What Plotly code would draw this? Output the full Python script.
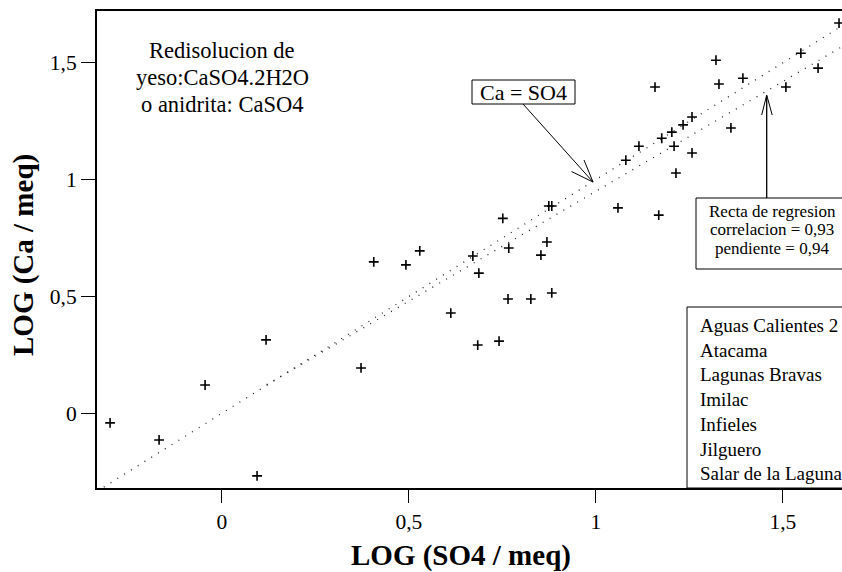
import plotly.graph_objects as go

# ---- data (LOG SO4 / meq vs LOG Ca / meq) ----
log_so4 = [-0.299, -0.168, -0.045, 0.094, 0.118, 0.372, 0.406, 0.492, 0.529, 0.612,
           0.671, 0.687, 0.684, 0.741, 0.751, 0.767, 0.765, 0.826, 0.853, 0.869,
           0.874, 0.882, 0.882, 1.059, 1.080, 1.115, 1.158, 1.168, 1.176, 1.203,
           1.209, 1.214, 1.233, 1.257, 1.257, 1.321, 1.329, 1.361, 1.393, 1.508,
           1.548, 1.594, 1.650]
log_ca = [-0.041, -0.114, 0.121, -0.268, 0.314, 0.194, 0.648, 0.635, 0.695, 0.429,
          0.673, 0.600, 0.292, 0.309, 0.834, 0.707, 0.489, 0.489, 0.677, 0.733,
          0.887, 0.887, 0.515, 0.879, 1.083, 1.143, 1.396, 0.848, 1.177, 1.203,
          1.143, 1.028, 1.234, 1.268, 1.114, 1.511, 1.409, 1.221, 1.434, 1.396,
          1.541, 1.477, 1.670]

sites = ["Aguas Calientes 2", "Atacama", "Lagunas Bravas", "Imilac",
         "Infieles", "Jilguero", "Salar de la Laguna"]

tick_vals = [0, 0.5, 1, 1.5]
tick_text = ["0", "0,5", "1", "1,5"]

reg_slope = 0.94
reg_intercept = 0.01
reg_x_start = 0.12
X_RANGE = [-0.334, 1.658]
Y_RANGE = [-0.3197, 1.7215]

FONT = "Liberation Serif"
W, H = 842, 572
ML, MT, MB = 97, 11, 84
PW, PH = W - ML, H - MT - MB


def P(px, py):
    """pixel -> paper coordinates (for decorations only)"""
    return (px - ML) / PW, (H - MB - py) / PH


fig = go.Figure()

# 1:1 line
fig.add_trace(go.Scatter(x=X_RANGE, y=X_RANGE, mode="lines",
                         line=dict(color="#222", width=1.3, dash="1px,7px"),
                         hoverinfo="skip", showlegend=False))
# regression line
reg_x = [reg_x_start, X_RANGE[1]]
reg_y = [reg_slope * v + reg_intercept for v in reg_x]
fig.add_trace(go.Scatter(x=reg_x, y=reg_y, mode="lines",
                         line=dict(color="#222", width=1.3, dash="1px,7px"),
                         hoverinfo="skip", showlegend=False))
# samples
fig.add_trace(go.Scatter(x=log_so4, y=log_ca, mode="markers",
                         marker=dict(symbol="cross-thin", size=7,
                                     line=dict(color="black", width=1.6)),
                         showlegend=False))

shapes = []
annotations = []


def line(p0, p1, w=1.0):
    x0, y0 = P(*p0)
    x1, y1 = P(*p1)
    shapes.append(dict(type="line", xref="paper", yref="paper",
                       x0=x0, y0=y0, x1=x1, y1=y1,
                       line=dict(color="black", width=w)))


def rect(p0, p1):
    x0, y0 = P(*p0)
    x1, y1 = P(*p1)
    shapes.append(dict(type="rect", xref="paper", yref="paper",
                       x0=x0, y0=y0, x1=x1, y1=y1,
                       line=dict(color="black", width=1), fillcolor="white",
                       layer="above"))


def text(t, p, size, xanchor="center", bold=False, angle=0):
    x, y = P(*p)
    annotations.append(dict(text=("<b>%s</b>" % t) if bold else t,
                            x=x, y=y, xref="paper", yref="paper",
                            xanchor=xanchor, yanchor="middle", showarrow=False,
                            textangle=angle, borderpad=0,
                            font=dict(family=FONT, size=size, color="black")))


# Ca = SO4 label box + arrow
rect((472, 80), (575, 104))
text("Ca = SO4", (523.5, 92.5), 22)
line((523, 104), (593, 182))
line((593, 182), (571.5, 171.5))
line((593, 182), (584, 160))

# regression box + arrow
rect((696, 198), (852, 269))
text("Recta de regresion", (772, 211), 17)
text("correlacion = 0,93", (772, 229.5), 17)
text("pendiente = 0,94", (772, 248), 17)
line((766.7, 198), (766.7, 96), 1.3)
line((766.7, 95), (761.7, 115))
line((766.7, 95), (772.2, 115))

# legend box with site names
rect((687, 307), (860, 488))
for i, name in enumerate(sites):
    text(name, (699, 325.5 + 24.7 * i), 19, xanchor="left")

# top-left comment
comment_lines = ["Redisolucion de", "yeso:CaSO4.2H2O", "o anidrita: CaSO4"]
for i, t in enumerate(comment_lines):
    text(t, (222, 50.5 + 26.8 * i), 22.5)

# axis titles
text("LOG (SO4 / meq)", (461, 555), 29, bold=True)
text("LOG (Ca / meq)", (23, 255), 29, bold=True, angle=-90)

axis_common = dict(showgrid=False, zeroline=False, showline=True,
                   linecolor="black", linewidth=2, ticks="outside",
                   tickcolor="black", tickwidth=1,
                   tickvals=tick_vals, ticktext=tick_text,
                   tickfont=dict(family=FONT, size=21.5, color="black"))

fig.update_layout(
    width=W, height=H,
    margin=dict(l=ML, r=0, t=MT, b=MB, pad=0),
    paper_bgcolor="white", plot_bgcolor="white",
    xaxis=dict(range=X_RANGE, mirror=True, ticklen=13, **axis_common),
    yaxis=dict(range=Y_RANGE, mirror=False, ticklen=14, **axis_common),
    shapes=shapes, annotations=annotations,
    showlegend=False,
)

fig.write_html("out.html", config={"displayModeBar": False},
               post_script="document.body.style.margin='0';"
                           "document.body.style.overflow='hidden';")
